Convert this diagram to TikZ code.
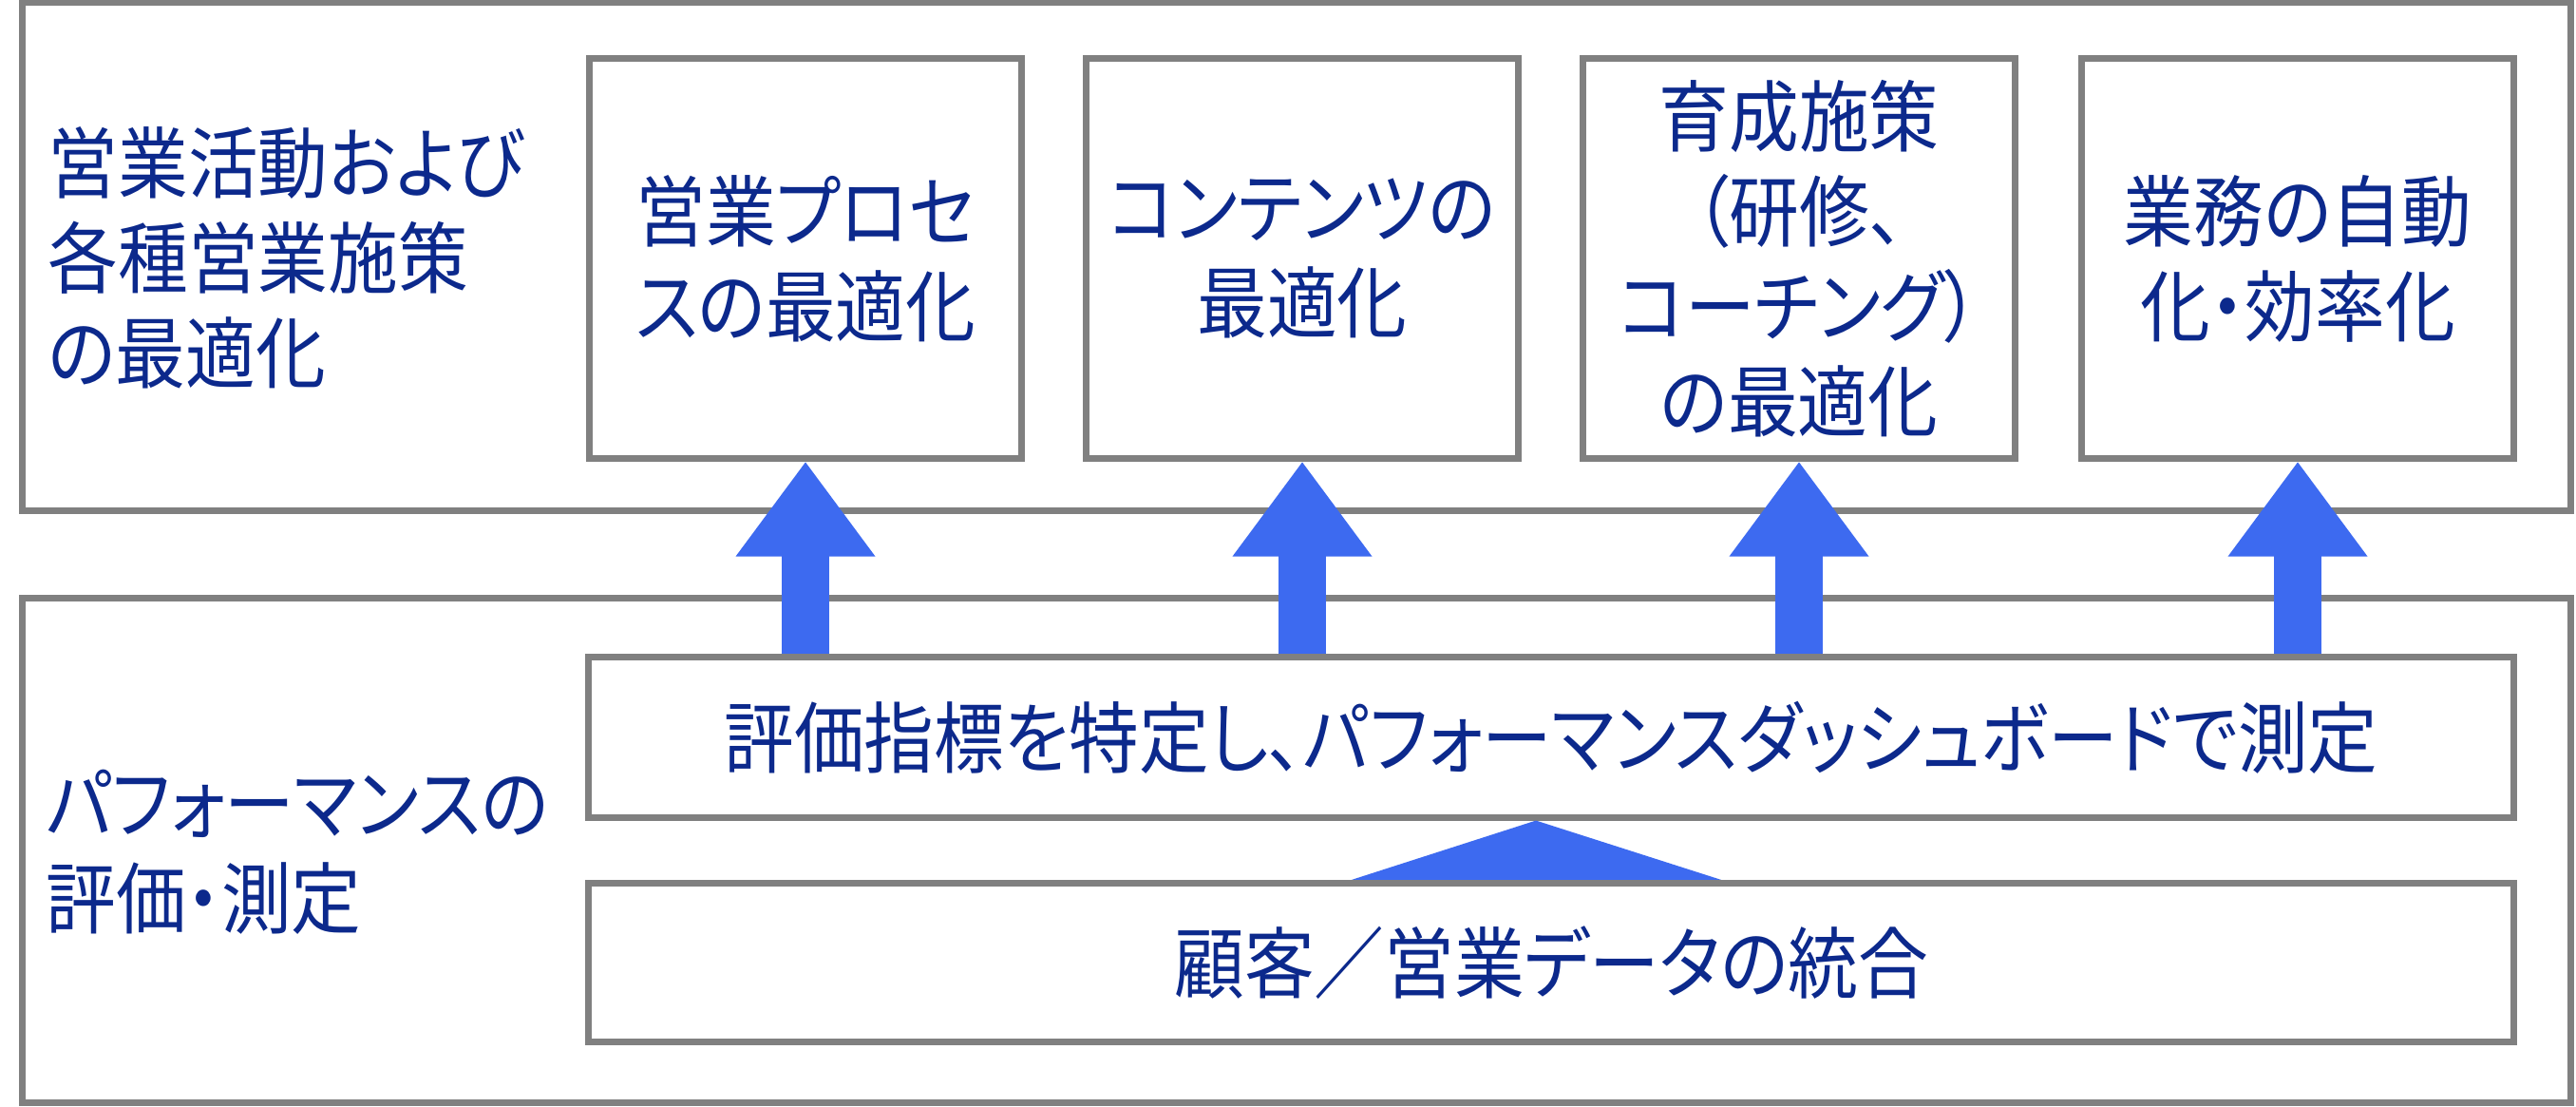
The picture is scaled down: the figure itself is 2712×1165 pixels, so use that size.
\documentclass[tikz,border=0pt]{standalone}
\usepackage{fontspec}
\setmainfont{Noto Sans CJK JP}[FakeStretch=0.9,RawFeature=+palt]
\usetikzlibrary{arrows.meta}
\definecolor{textnavy}{RGB}{12,41,140}
\definecolor{arrowblue}{RGB}{61,106,240}
\definecolor{framegray}{RGB}{128,128,128}

\begin{document}
\begin{tikzpicture}[x=0.01cm, y=-0.01cm,
    panel/.style={draw=framegray, line width=0.07cm, fill=white, inner sep=0pt},
    jtext/.style={text=textnavy, font=\fontsize{23.3pt}{28.45pt}\selectfont},
    uparrow/.style={draw=arrowblue, line width=0.5cm, -{Triangle[length=1cm, width=1.4cm]}}]
            \useasboundingbox (0, 0) rectangle (2712, 1165);

            % frames
            \node[panel, minimum width=26.81cm, minimum height=5.35cm] (top) at (1365, 270) {};
            \node[panel, minimum width=26.81cm, minimum height=5.31cm] (bottom) at (1365, 895) {};

            \node[jtext, align=left, anchor=west, inner sep=0pt] (toplabel) at (50, 271) {営業活動および\\各種営業施策\\の最適化};
            \node[jtext, align=left, anchor=west, inner sep=0pt] (bottomlabel) at (48, 897) {パフォーマンスの\\評価・測定};

            \node[panel, jtext, align=center, minimum width=4.54cm, minimum height=4.2cm] (p1) at (848, 272) {営業プロセ\\スの最適化};
            \node[panel, jtext, align=center, minimum width=4.54cm, minimum height=4.2cm] (p2) at (1371, 272) {コンテンツの\\最適化};
            \node[panel, jtext, align=center, minimum width=4.54cm, minimum height=4.2cm] (p3) at (1894, 272) {育成施策\\（研修、\\コーチング）\\の最適化};
            \node[panel, jtext, align=center, minimum width=4.54cm, minimum height=4.2cm] (p4) at (2419, 272) {業務の自動\\化・効率化};

            \node[panel, jtext, minimum width=20.25cm, minimum height=1.68cm] (meas) at (1633, 776) {評価指標を特定し、パフォーマンスダッシュボードで測定};
            \node[panel, jtext, minimum width=20.25cm, minimum height=1.67cm] (data) at (1633, 1013) {顧客／営業データの統合};

            \draw[uparrow] (meas.north -| p1.south) -- (p1.south);
            \draw[uparrow] (meas.north -| p2.south) -- (p2.south);
            \draw[uparrow] (meas.north -| p3.south) -- (p3.south);
            \draw[uparrow] (meas.north -| p4.south) -- (p4.south);

            \fill[arrowblue] ([xshift=-2.1cm]data.north) -- ([xshift=-0.16cm]meas.south) -- ([xshift=1.79cm]data.north) -- cycle;
        \end{tikzpicture}
\end{document}
